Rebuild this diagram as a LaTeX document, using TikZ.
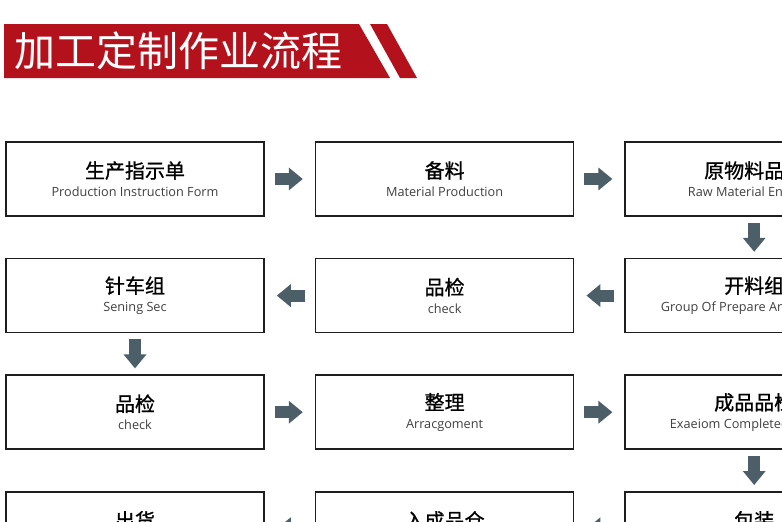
\documentclass[tikz,border=0pt]{standalone}
\usepackage{fontspec}
\setmainfont{Open Sans}
\newfontfamily\cjk{Noto Sans CJK SC}
\newfontfamily\cjkmid[FakeBold=0.9]{Noto Sans CJK SC}
\usetikzlibrary{arrows.meta,positioning}
\definecolor{Crimson}{HTML}{B3121C}
\definecolor{Slate}{HTML}{4C5E67}
\definecolor{Ink}{HTML}{1E1E1E}
\tikzset{
  stage/.style={
    draw=Ink, line width=1.6pt, fill=white,
    minimum width=258pt, minimum height=74pt, align=center,
    inner sep=0pt, font=\fontsize{12.7}{18.5}\selectfont
  },
  flow/.style={draw=Slate, line width=12pt, -{Triangle[length=14pt,width=22pt]}},
  hflow/.style={flow, shorten <=10pt, shorten >=12pt},
  vflow/.style={flow, shorten <=6pt, shorten >=6pt}
}
\newcommand{\stagetext}[2]{{\cjkmid\fontsize{20}{20}\selectfont #1}\\{\color{Ink!85}#2}}

\begin{document}
\begin{tikzpicture}[x=1pt,y=1pt,node distance=41pt and 50pt]
        \useasboundingbox (0,0) rectangle (782,-522);
        \clip (0,0) rectangle (782,-522);
        % title bar
        \fill[Crimson] (4,-24) -- (359,-24) -- (390,-78) -- (4,-78) -- cycle;
        \fill[Crimson] (370,-24) -- (387,-24) -- (417,-78) -- (400,-78) -- cycle;
        \node[anchor=west,inner sep=0pt,text=white,font=\cjk\fontsize{41}{41}\selectfont] (title) at (14,-51) {加工定制作业流程};
        % row 1
        \node[stage] (form) at (135,-179) {\stagetext{生产指示单}{Production Instruction Form}};
        \node[stage,right=of form] (stock) {\stagetext{备料}{Material Production}};
        \node[stage,right=of stock] (rawqc) {\stagetext{原物料品检}{Raw Material Entrance}};
        % row 2
        \node[stage,below=of rawqc] (cutting) {\stagetext{开料组}{Group Of Prepare Arrangement}};
        \node[stage,left=of cutting] (qca) {\stagetext{品检}{check}};
        \node[stage,left=of qca] (sewing) {\stagetext{针车组}{Sening Sec}};
        % row 3
        \node[stage,below=of sewing] (qcb) {\stagetext{品检}{check}};
        \node[stage,right=of qcb] (tidy) {\stagetext{整理}{Arracgoment}};
        \node[stage,right=of tidy] (finqc) {\stagetext{成品品检}{Exaeiom Completed Product}};
        % row 4
        \node[stage,below=of finqc] (pack) {\stagetext{包装}{}};
        \node[stage,left=of pack] (store) {\stagetext{入成品仓}{}};
        \node[stage,left=of store] (ship) {\stagetext{出货}{}};
        \draw[hflow] (form) -- (stock);
        \draw[hflow] (stock) -- (rawqc);
        \draw[vflow] (rawqc) -- (cutting);
        \draw[hflow] (cutting) -- (qca);
        \draw[hflow] (qca) -- (sewing);
        \draw[vflow] (sewing) -- (qcb);
        \draw[hflow] (qcb) -- (tidy);
        \draw[hflow] (tidy) -- (finqc);
        \draw[vflow] (finqc) -- (pack);
        \draw[hflow] (pack) -- (store);
        \draw[hflow] (store) -- (ship);
      \end{tikzpicture}
\end{document}
